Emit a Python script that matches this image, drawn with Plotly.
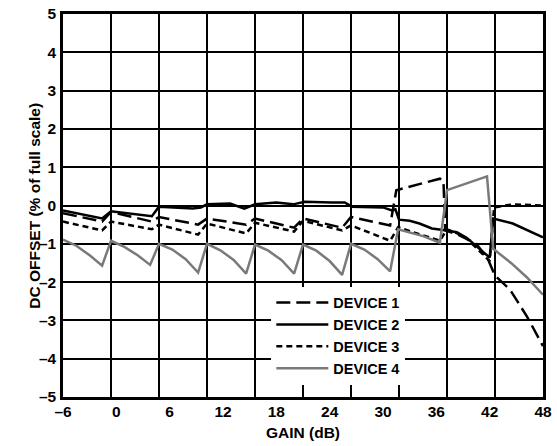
import plotly.graph_objects as go

# ---- data ----
x_dev1 = [-6, -1.6, -0.6, 4.0, 4.8, 9.2, 10.2, 14.6, 15.6, 20.0, 21.0, 25.4, 26.4, 30.8,
          31.5, 36.4, 36.8, 37.0, 38.6, 40.5, 41.8, 42.2, 42.6, 44.3, 46.2, 48]
y_dev1 = [-0.2, -0.42, -0.17, -0.42, -0.3, -0.5, -0.34, -0.5, -0.34, -0.58, -0.34, -0.58, -0.3, -0.52,
          0.4, 0.7, 0.65, -0.65, -0.78, -1.0, -1.4, -1.6, -1.83, -2.2, -2.9, -3.67]

x_dev2 = [-6, -1.6, -0.6, 4.0, 4.8, 8.6, 9.5, 10.2, 12.8, 14.4, 15.6, 18.0, 19.9, 21.2, 24.2,
          25.7, 26.5, 30.0, 31.0, 31.4, 31.8, 33.0, 34.1, 35.5, 37.2, 38.3, 39.4, 40.5, 41.7,
          42.0, 42.4, 44.6, 48]
y_dev2 = [-0.13, -0.34, -0.15, -0.28, -0.03, -0.08, -0.05, 0.03, 0.05, -0.08, 0.03, 0.08, 0.03, 0.1, 0.08,
          0.08, -0.03, -0.05, -0.13, -0.1, -0.37, -0.4, -0.47, -0.6, -0.65, -0.7, -0.84, -1.05, -1.3,
          -1.36, -0.34, -0.47, -0.83]

x_dev3 = [-6, -1.6, -0.6, 4.0, 4.8, 9.2, 10.2, 14.6, 15.6, 20.0, 21.0, 25.4, 26.4, 30.8,
          31.7, 36.4, 37.2, 38.6, 39.5, 40.5, 41.7, 42.0, 42.5, 44.6, 48]
y_dev3 = [-0.42, -0.65, -0.42, -0.62, -0.5, -0.76, -0.47, -0.73, -0.45, -0.68, -0.4, -0.65, -0.52, -0.92,
          -0.57, -0.92, -0.62, -0.75, -0.88, -1.1, -1.36, -1.45, -0.05, 0.03, 0.0]

x_dev4 = [-6, -4.5, -3.0, -1.6, -0.6, 0.9, 2.4, 3.8, 4.8, 6.3, 7.8, 9.2, 10.2, 11.7, 13.2, 14.6,
          15.6, 17.1, 18.6, 20.0, 21.0, 22.5, 24.0, 25.4, 26.4, 27.9, 29.4, 30.8,
          31.7, 33.0, 34.5, 36.4, 37.2, 41.7, 42.4, 44.4, 46.2, 48]
y_dev4 = [-0.89, -1.05, -1.3, -1.57, -0.92, -1.08, -1.3, -1.55, -1.0, -1.15, -1.4, -1.75, -1.0, -1.17, -1.42, -1.78,
          -1.02, -1.18, -1.43, -1.78, -1.02, -1.18, -1.45, -1.81, -1.0, -1.15, -1.4, -1.72,
          -0.62, -0.7, -0.8, -0.97, 0.4, 0.76, -1.13, -1.5, -1.88, -2.33]

names = ["DEVICE 1", "DEVICE 2", "DEVICE 3", "DEVICE 4"]

x_tickvals = [-6, 0, 6, 12, 18, 24, 30, 36, 42, 48]
x_ticktext = ["–6", "0", "6", "12", "18", "24", "30", "36", "42", "48"]
y_tickvals = [-5, -4, -3, -2, -1, 0, 1, 2, 3, 4, 5]
y_ticktext = ["–5", "–4", "–3", "–2", "–1", "0", "1", "2", "3", "4", "5"]

FONT = "Liberation Sans, Arial, sans-serif"

fig = go.Figure()
fig.add_trace(go.Scatter(x=x_dev1, y=y_dev1, mode="lines", name=names[0],
                         line=dict(color="black", width=2.5, dash="14px,6px")))
fig.add_trace(go.Scatter(x=x_dev2, y=y_dev2, mode="lines", name=names[1],
                         line=dict(color="black", width=2.5)))
fig.add_trace(go.Scatter(x=x_dev3, y=y_dev3, mode="lines", name=names[2],
                         line=dict(color="black", width=2.5, dash="6px,4px")))
fig.add_trace(go.Scatter(x=x_dev4, y=y_dev4, mode="lines", name=names[3],
                         line=dict(color="#7a7a7a", width=2.5)))

fig.update_layout(
    width=557, height=446,
    margin=dict(l=63, r=14, t=14, b=49, autoexpand=False),
    paper_bgcolor="white", plot_bgcolor="white",
    font=dict(family=FONT, color="black", size=14),
    showlegend=True,
    legend=dict(x=0.434, y=0.288, xanchor="left", yanchor="top",
                bgcolor="white", borderwidth=0, itemwidth=52,
                font=dict(family=FONT, size=14.5, color="black", weight="bold")),
    annotations=[dict(text="DC OFFSET (% of full scale)", textangle=-90,
                      xref="paper", yref="paper", x=-0.06, y=0.5,
                      xanchor="center", yanchor="middle", showarrow=False,
                      font=dict(family=FONT, size=15.5, color="black", weight="bold"))],
)
fig.update_xaxes(
    range=[-6, 48], tickmode="array", tickvals=x_tickvals, ticktext=x_ticktext,
    showgrid=False, zeroline=False, automargin=False,
    showline=True, mirror=True, linecolor="black", linewidth=2.5,
    ticks="", ticklabelstandoff=-1,
    tickfont=dict(family=FONT, size=15.5, weight="bold"),
    minor=dict(tick0=-6, dtick=5.4, showgrid=True, gridcolor="black", gridwidth=1.5, ticks=""),
    title=dict(text="GAIN (dB)", font=dict(family=FONT, size=15.5, weight="bold"), standoff=8),
)
fig.update_yaxes(
    range=[-5, 5], tickmode="array", tickvals=y_tickvals, ticktext=y_ticktext,
    showgrid=True, gridcolor="black", gridwidth=1.5, zeroline=False, automargin=False,
    showline=True, mirror=True, linecolor="black", linewidth=2.5,
    ticks="", ticklabelstandoff=1,
    tickfont=dict(family=FONT, size=15.5, weight="bold"),
)

fig.write_html("out.html", config={"displayModeBar": False},
               post_script="document.body.style.margin='0';document.body.style.overflow='hidden';")
